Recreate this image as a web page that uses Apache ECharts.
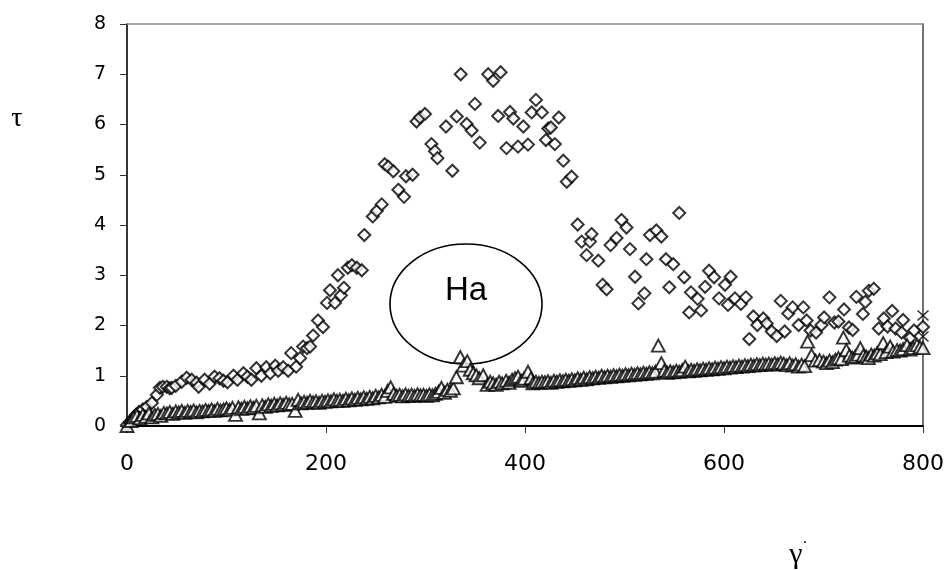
<!DOCTYPE html>
<html><head><meta charset="utf-8">
<script src="https://cdn.jsdelivr.net/npm/echarts@6/dist/echarts.min.js"></script>
<style>html,body{margin:0;padding:0;background:#fff}#c{width:948px;height:570px}</style>
</head><body><div id="c"></div>
<script>
// Diamond series [x, y]
const diamondPts = [
[0,0.02],[3,0.08],[6,0.15],[9,0.22],[12,0.28],[16,0.33],[20,0.38],[25,0.46],[30,0.62],[33,0.76],[36,0.78],[40,0.78],[43,0.75],[45,0.76],[49,0.80],[55,0.88],[60,0.96],[65,0.92],[70,0.86],[72,0.78],[78,0.92],[83,0.84],[88,0.98],[93,0.95],[97,0.90],[101,0.87],[107,1.0],[111,0.92],[117,1.05],[121,0.98],[125,0.92],[130,1.15],[135,1.0],[140,1.17],[144,1.05],[149,1.2],[152,1.1],[157,1.17],[162,1.1],[165,1.45],[170,1.18],[174,1.35],[177,1.58],[181,1.55],[184,1.58],[187,1.8],[192,2.1],[197,1.97],[201,2.45],[204,2.7],[209,2.45],[212,3.0],[215,2.6],[218,2.75],[222,3.15],[226,3.2],[231,3.15],[236,3.1],
[238.5,3.8],[247,4.17],[251,4.28],[256,4.41],[259,5.21],[262.6,5.16],[267.6,5.07],[272.7,4.7],[278.4,4.56],[280.4,4.97],[287,5.0],[291,6.06],[294.5,6.14],[299.5,6.21],[306,5.61],[309.5,5.47],[312,5.33],[320.6,5.96],[327,5.08],[331.4,6.16],[335.4,7.0],[341.4,6.01],[346.4,5.88],[349.7,6.41],[354.5,5.64],[363,7.0],[368,6.87],[373,6.17],[375.5,7.04],[381.4,5.53],[384.9,6.25],[388.3,6.12],[393,5.56],[398.3,5.96],[403,5.6],[406.7,6.24],[411,6.49],[417,6.24],[421,5.69],[423.4,5.92],[426,5.94],[430,5.61],[434,6.14],[438.5,5.28],[442,4.86],[446.8,4.96],
[452.9,4.01],[456.9,3.67],[461.9,3.4],[465.3,3.67],[466.9,3.82],[473.7,3.29],[478,2.81],[482,2.72],[486,3.6],[492,3.74],[497,4.1],[502,3.95],[505.5,3.52],[510.6,2.97],[514,2.44],[520,2.64],[522,3.32],[525.6,3.8],[532,3.89],[537,3.77],[541.7,3.32],[545,2.76],[549,3.22],[555,4.24],[560,2.96],[565,2.26],[566.8,2.66],[573.5,2.53],[577,2.3],[581,2.77],[585,3.09],[590,2.96],[595,2.54],[601,2.81],[604,2.41],[606.7,2.97],[611,2.54],[617,2.43],[622,2.56],[625.4,1.73],[629.5,2.18],[633.5,2.01],[639.5,2.14],[643,2.04],[648,1.88],[653,1.79],[657,2.49],[661,1.88],[664.6,2.24],[669,2.36],[675,2.01],[679.7,2.36],[683,2.1],[687,1.9],[692.5,1.86],[698,2.01],[700.6,2.16],[706,2.56],[711,2.06],[715,2.08],[720.6,2.32],[725.6,1.96],[729.3,1.91],[733,2.57],[739.6,2.23],[742,2.47],[745.5,2.69],[750.5,2.73],[755.6,1.94],[760.6,2.14],[764.4,1.98],[769,2.29],[772.5,1.94],[778.5,1.86],[780,2.11],[787,1.75],[791,1.9],[800,1.97]
];
// Triangle series [x, y]
const trianglePts = [
[0,0.0],[4,0.1],[7,0.17],[10,0.2],[13,0.15],[16,0.22],[19,0.18],[22,0.25],[25,0.17],[28,0.22],[31,0.24],[34,0.2],[37,0.26],[40,0.25],[43,0.28],[46,0.24],[49,0.29],[52,0.27],[55,0.3],[58,0.26],[61,0.3],[64,0.28],[67,0.31],[70,0.27],[73,0.3],[76,0.29],[79,0.32],[82,0.3],[85,0.33],[88,0.3],[91,0.34],[94,0.31],[97,0.33],[100,0.35],[103,0.32],[106,0.36],[109,0.22],[112,0.37],[115,0.34],[118,0.38],[121,0.35],[124,0.39],[127,0.36],[130,0.4],[133,0.25],[136,0.41],[139,0.38],[142,0.43],[145,0.4],[148,0.44],[151,0.41],[154,0.45],[157,0.42],[160,0.46],[163,0.43],[166,0.44],[169,0.3],[172,0.52],[175,0.45],[178,0.48],[181,0.46],[184,0.5],[187,0.47],[190,0.49],[193,0.46],[196,0.5],[199,0.48],
[202,0.51],[205,0.49],[208,0.53],[211,0.5],[214,0.52],[217,0.5],[220,0.54],[223,0.51],[226,0.55],[229,0.52],[232,0.56],[235,0.53],[238,0.57],[241,0.54],[244,0.58],[247,0.55],[250,0.6],[253,0.57],[256,0.62],[259,0.58],[262,0.7],[265,0.77],[268,0.64],[271,0.6],[274,0.62],[277,0.59],[280,0.63],[283,0.6],[286,0.62],[289,0.6],[292,0.63],[295,0.61],[298,0.62],[301,0.6],[304,0.63],[307,0.61],[310,0.64],[313,0.68],[316,0.76],[319,0.66],[322,0.72],[325,0.7],[328,0.75],[331,0.97],[335,1.37],[338,1.2],[342,1.29],[345,1.12],[348,1.05],[351,1.01],[354,0.95],[358,1.01],[362,0.82],[365,0.88],[368,0.85],[371,0.82],[374,0.88],[377,0.85],[381,0.9],[384,0.86],[387,0.92],[390,0.95],[393,0.98],[396,0.9],[399,0.94],
[403,1.08],[406,0.95],[408,0.85],[411,0.88],[414,0.86],[417,0.88],[420,0.87],[423,0.89],[426,0.86],[429,0.9],[432,0.88],[435,0.91],[438,0.89],[441,0.92],[444,0.9],[447,0.93],[450,0.91],[453,0.95],[456,0.92],[459,0.96],[462,0.93],[465,0.97],[468,0.95],[471,0.98],[474,0.96],[477,1.0],[480,0.97],[483,1.0],[486,0.98],[489,1.01],[492,0.99],[495,1.02],[498,1.0],[501,1.03],[504,1.01],[507,1.04],[510,1.02],[513,1.05],[516,1.03],[519,1.06],[522,1.04],[525,1.07],[528,1.05],[531,1.08],[534,1.6],[537,1.25],[540,1.1],[543,1.06],[546,1.09],[549,1.07],[552,1.1],[555,1.08],[558,1.11],[561,1.18],[564,1.09],[567,1.12],[570,1.1],[573,1.13],[576,1.11],[579,1.14],[582,1.12],[585,1.15],[588,1.13],[591,1.16],[594,1.14],[597,1.17],
[600,1.15],[603,1.18],[606,1.16],[609,1.19],[612,1.17],[615,1.2],[618,1.18],[621,1.21],[624,1.19],[627,1.22],[630,1.2],[633,1.23],[636,1.21],[639,1.24],[642,1.22],[645,1.24],[648,1.22],[651,1.25],[654,1.23],[657,1.26],[660,1.24],[663,1.21],[666,1.25],[669,1.2],[672,1.23],[675,1.18],[678,1.22],[681,1.19],[684,1.68],[688,1.41],[692,1.3],[696,1.31],[700,1.28],[703,1.25],[706,1.3],[709,1.27],[712,1.32],[715,1.35],[718,1.33],[720,1.76],[723,1.51],[726,1.4],[729,1.36],[732,1.38],[735,1.42],[737,1.55],[740,1.4],[743,1.38],[745,1.35],[748,1.42],[751,1.4],[754,1.45],[757,1.43],[760,1.65],[763,1.47],[767,1.58],[770,1.48],[774,1.51],[777,1.5],[780,1.53],[784,1.61],[787,1.52],[790,1.55],[794,1.61],[797,1.57],[800,1.55]
];
// Cross markers [x, y]
const crossPts = [[800,2.2],[800,1.78]];
const xTicks = {min:0, max:800, interval:200};
const yTicks = {min:0, max:8, interval:1};

const chart = echarts.init(document.getElementById('c'));
const lab = {color:'#000', fontFamily:'DejaVu Sans, Arial, sans-serif'};
chart.setOption({
  animation:false,
  backgroundColor:'#fff',
  grid:{left:127, right:25, top:24, bottom:144},
  xAxis:[{
    type:'value', min:xTicks.min, max:xTicks.max, interval:xTicks.interval,
    axisLine:{show:true, onZero:false, lineStyle:{color:'#000', width:2}},
    axisTick:{show:true, inside:false, length:7, lineStyle:{color:'#333', width:1}},
    axisLabel:{...lab, fontSize:22, margin:27},
    splitLine:{show:false}
  },{
    type:'value', position:'top', min:xTicks.min, max:xTicks.max,
    axisLine:{show:true, onZero:false, lineStyle:{color:'#888', width:1.5}},
    axisTick:{show:false}, axisLabel:{show:false}, splitLine:{show:false}
  }],
  yAxis:[{
    type:'value', min:yTicks.min, max:yTicks.max, interval:yTicks.interval,
    axisLine:{show:true, onZero:false, lineStyle:{color:'#000', width:1.6}},
    axisTick:{show:true, inside:false, length:7, lineStyle:{color:'#333', width:1}},
    axisLabel:{...lab, fontSize:19, margin:21},
    splitLine:{show:false}
  },{
    type:'value', position:'right', min:yTicks.min, max:yTicks.max,
    axisLine:{show:true, onZero:false, lineStyle:{color:'#444', width:1.5}},
    axisTick:{show:false}, axisLabel:{show:false}, splitLine:{show:false}
  }],
  series:[{
    type:'scatter', data:diamondPts, symbol:'diamond', symbolSize:[12,12], clip:false, z:3,
    itemStyle:{color:'#fff', borderColor:'#000', borderWidth:2}
  },{
    type:'scatter', data:trianglePts, symbol:'triangle', symbolSize:[13,12], clip:false, z:3,
    itemStyle:{color:'#fff', borderColor:'#000', borderWidth:1.9}
  },{
    type:'scatter', data:crossPts, symbol:'path://M0,0L10,10M10,0L0,10', symbolSize:[11,10], clip:false, z:3,
    itemStyle:{color:'none', borderColor:'#000', borderWidth:1.5}
  }],
  graphic:[
    {type:'ellipse', shape:{cx:466, cy:304, rx:76, ry:60}, style:{fill:'none', stroke:'#000', lineWidth:1.6}, z:1},
    {type:'text', x:466, y:291, style:{text:'Ha', fontSize:33, fontFamily:'Liberation Sans, Arial, sans-serif', fill:'#000', align:'center', verticalAlign:'middle'}, z:1},
    {type:'text', x:17, y:119, style:{text:'τ', fontSize:28, fontFamily:'Liberation Serif, Times New Roman, serif', fill:'#000', align:'center', verticalAlign:'middle'}, z:4},
    {type:'text', x:796, y:555, style:{text:'γ', fontSize:30, fontFamily:'Liberation Serif, Times New Roman, serif', fill:'#000', align:'center', verticalAlign:'middle'}, z:4},
    {type:'text', x:805, y:544, style:{text:'·', fontSize:16, fontFamily:'Liberation Serif, serif', fill:'#000', align:'center', verticalAlign:'middle'}, z:4}
  ]
});
</script></body></html>
